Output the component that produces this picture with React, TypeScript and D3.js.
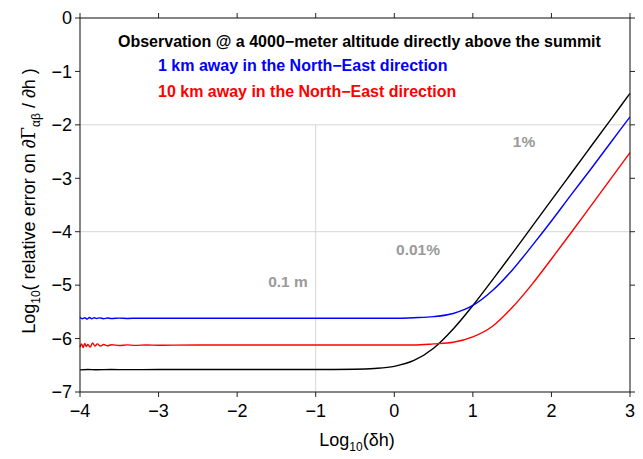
import React from 'react';
import * as d3 from 'd3';

// x = log10(dh), y = log10(relative error)
const blackSeries: [number, number][] = [
  [-4, -6.585], [-3.9, -6.578], [-3.8, -6.583], [-3.6, -6.579], [-3.4, -6.582], [-3, -6.58],
  [-2, -6.58], [-1, -6.58], [-0.5, -6.575], [-0.25, -6.56], [0, -6.52], [0.25, -6.41],
  [0.5, -6.18], [0.75, -5.82], [1, -5.38], [1.25, -4.9], [1.5, -4.41], [1.75, -3.91],
  [2, -3.41], [2.25, -2.91], [2.5, -2.41], [2.75, -1.91], [3, -1.41]
];

const blueSeries: [number, number][] = [
  [-4, -5.6], [-3.97, -5.63], [-3.94, -5.61], [-3.91, -5.635], [-3.88, -5.605], [-3.85, -5.63],
  [-3.82, -5.61], [-3.79, -5.625], [-3.75, -5.612], [-3.7, -5.628], [-3.65, -5.615], [-3.6, -5.625],
  [-3.5, -5.617], [-3.4, -5.623], [-3.25, -5.619], [-3, -5.621], [-2.5, -5.62], [-2, -5.62],
  [-1, -5.62], [0, -5.62], [0.25, -5.61], [0.5, -5.59], [0.75, -5.53], [1, -5.38], [1.25, -5.1],
  [1.5, -4.72], [1.75, -4.27], [2, -3.8], [2.25, -3.31], [2.5, -2.83], [2.75, -2.34], [3, -1.85]
];

const redSeries: [number, number][] = [
  [-4, -6.16], [-3.98, -6.1], [-3.96, -6.17], [-3.94, -6.09], [-3.92, -6.15], [-3.9, -6.11],
  [-3.87, -6.16], [-3.84, -6.08], [-3.81, -6.14], [-3.78, -6.1], [-3.74, -6.14], [-3.7, -6.11],
  [-3.65, -6.135], [-3.6, -6.115], [-3.5, -6.13], [-3.4, -6.118], [-3.3, -6.127], [-3.15, -6.12],
  [-3, -6.125], [-2.5, -6.12], [-2, -6.12], [-1, -6.12], [0, -6.12], [0.25, -6.12], [0.5, -6.1],
  [0.75, -6.07], [1, -5.97], [1.25, -5.77], [1.5, -5.42], [1.75, -4.99], [2, -4.51],
  [2.25, -4.02], [2.5, -3.52], [2.75, -3.02], [3, -2.52]
];

const xTicks = [-4, -3, -2, -1, 0, 1, 2, 3];
const yTicks = [0, -1, -2, -3, -4, -5, -6, -7];

const titleLines = [
  { text: 'Observation @ a 4000\u2212meter altitude directly above the summit', color: '#000', x: 118, y: 47 },
  { text: '1 km away in the North\u2212East direction', color: '#0000ff', x: 158, y: 71 },
  { text: '10 km away in the North\u2212East direction', color: '#ff0000', x: 158, y: 97 }
];

// reference levels: 1% and 0.01% relative error, 0.1 m step
const refLevels = [
  { axis: 'y', value: -2, label: '1%', lx: 524, ly: 147 },
  { axis: 'y', value: -4, label: '0.01%', lx: 418, ly: 255 },
  { axis: 'x', value: -1, label: '0.1 m', lx: 288, ly: 287 }
];

const W = 643;
const H = 459;
const left = 80, right = 630, top = 18, bottom = 392;

export default function App() {
  const x = d3.scaleLinear().domain([-4, 3]).range([left, right]);
  const y = d3.scaleLinear().domain([-7, 0]).range([bottom, top]);
  const line = d3.line<[number, number]>()
    .x((d) => x(d[0]))
    .y((d) => y(d[1]))
    .curve(d3.curveMonotoneX);
  const fmt = d3.format('d');
  const font = 'Liberation Sans, Arial, Helvetica, sans-serif';
  const tick = 5;

  return (
    <svg width={W} height={H} style={{ position: 'absolute', left: 0, top: 0, background: '#fff' }} fontFamily={font}>
      {/* reference lines */}
      {refLevels.map((r) =>
        r.axis === 'y' ? (
          <line key={r.label} x1={left} x2={right} y1={y(r.value)} y2={y(r.value)} stroke="#d6d6d6" strokeWidth={1} />
        ) : (
          <line key={r.label} x1={x(r.value)} x2={x(r.value)} y1={y(-2)} y2={bottom} stroke="#d6d6d6" strokeWidth={1} />
        )
      )}
      {refLevels.map((r) => (
        <text key={'l' + r.label} x={r.lx} y={r.ly} textAnchor="middle" fontSize={15.5} fontWeight="bold" fill="#9a9a9a">
          {r.label}
        </text>
      ))}

      {/* curves */}
      <path d={line(blackSeries) || ''} fill="none" stroke="#000" strokeWidth={1.4} />
      <path d={line(blueSeries) || ''} fill="none" stroke="#0000ff" strokeWidth={1.4} />
      <path d={line(redSeries) || ''} fill="none" stroke="#ff0000" strokeWidth={1.4} />

      {/* frame */}
      <rect x={left} y={top} width={right - left} height={bottom - top} fill="none" stroke="#222" strokeWidth={1.1} />
      {xTicks.map((t) => (
        <g key={'x' + t}>
          <line x1={x(t)} x2={x(t)} y1={bottom} y2={bottom + tick} stroke="#222" />
          <line x1={x(t)} x2={x(t)} y1={top} y2={top - tick} stroke="#222" />
          <text x={x(t)} y={417} textAnchor="middle" fontSize={18}>{fmt(t)}</text>
        </g>
      ))}
      {yTicks.map((t) => (
        <g key={'y' + t}>
          <line x1={left} x2={left - tick} y1={y(t)} y2={y(t)} stroke="#222" />
          <line x1={right} x2={right + tick} y1={y(t)} y2={y(t)} stroke="#222" />
          <text x={72} y={y(t)} dy="0.35em" textAnchor="end" fontSize={18}>{fmt(t)}</text>
        </g>
      ))}

      {/* titles */}
      {titleLines.map((l) => (
        <text key={l.text} x={l.x} y={l.y} fontSize={16} fontWeight="bold" fill={l.color}>{l.text}</text>
      ))}

      {/* axis labels */}
      <text x={(left + right) / 2 + 2} y={446} textAnchor="middle" fontSize={18}>
        Log<tspan fontSize={12} dy={5}>10</tspan><tspan dy={-5}>(δh)</tspan>
      </text>
      <text transform={`translate(35,${201}) rotate(-90)`} textAnchor="middle" fontSize={18}>
        Log<tspan fontSize={12} dy={5}>10</tspan><tspan dy={-5}>( relative error on ∂</tspan>
        <tspan fontFamily="DejaVu Serif, serif">Γ</tspan>
        <tspan fontSize={12} dy={5}>αβ</tspan><tspan dy={-5}> / ∂h )</tspan>
      </text>
    </svg>
  );
}
